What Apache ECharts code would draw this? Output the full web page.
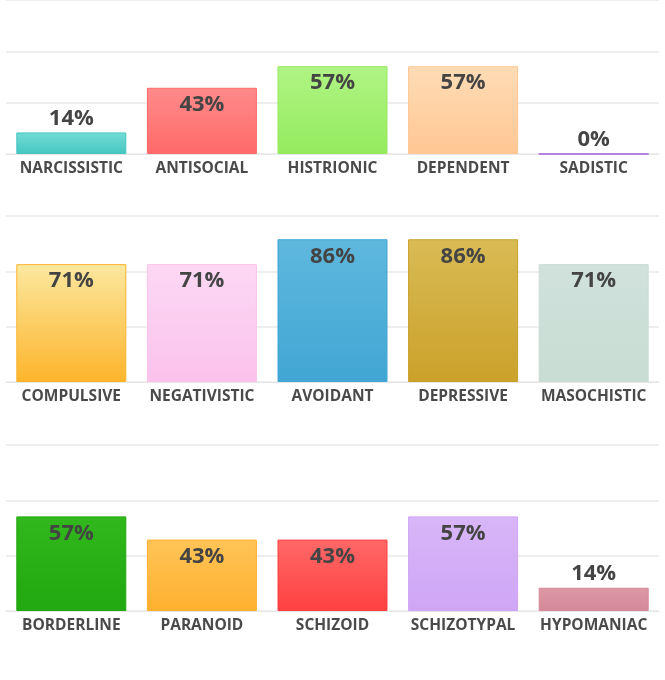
<!DOCTYPE html>
<html><head><meta charset="utf-8">
<script src="https://cdn.jsdelivr.net/npm/echarts@6/dist/echarts.min.js"></script>
<style>html,body{margin:0;padding:0;background:#fff}#c{width:665px;height:680px}</style>
</head><body><div id="c"></div>
<script>
const row1Categories = ['NARCISSISTIC','ANTISOCIAL','HISTRIONIC','DEPENDENT','SADISTIC'];
const row1Values = [14,43,57,57,0];
const row2Categories = ['COMPULSIVE','NEGATIVISTIC','AVOIDANT','DEPRESSIVE','MASOCHISTIC'];
const row2Values = [71,71,86,86,71];
const row3Categories = ['BORDERLINE','PARANOID','SCHIZOID','SCHIZOTYPAL','HYPOMANIAC'];
const row3Values = [57,43,43,57,14];

const row1Colors = [['#74dcd6','#45c6c0'],['#ff8a8a','#ff6a6a'],['#b0f484','#94eb5e'],['#ffdcb6','#ffc793'],['#b070e0','#a060d8']];
const row2Colors = [['#fbe89f','#fdb42c'],['#fcd8f4','#fbc2ec'],['#5fb8de','#41a6d3'],['#d9bb55','#cba12a'],['#d0e2db','#c8dcd4']];
const row3Colors = [['#30b81c','#22a810'],['#ffc457','#ffb02e'],['#ff6868','#ff4040'],['#d8b6f8','#cfa6f5'],['#dc98a6','#d48898']];

const rows = [[row1Categories,row1Values,row1Colors,-12],[row2Categories,row2Values,row2Colors,216],[row3Categories,row3Values,row3Colors,445]];
const grid=[],xAxis=[],yAxis=[],series=[];
rows.forEach((r,i)=>{
  const [cats,vals,cols,top]=r;
  grid.push({left:6,width:653,top:top,height:166});
  xAxis.push({type:'category',gridIndex:i,data:cats,axisTick:{show:false},
    axisLine:{lineStyle:{color:'#e6e6e6'}},
    axisLabel:{interval:0,margin:7,color:'#4a4a4a',fontFamily:'Open Sans',fontWeight:'bold',fontSize:15.5}});
  yAxis.push({type:'value',gridIndex:i,min:0,max:100,interval:100/3,axisLabel:{show:false},
    splitLine:{lineStyle:{color:'#e8e8e8',width:1.5}}});
  series.push({type:'bar',xAxisIndex:i,yAxisIndex:i,barWidth:110,
    data:vals.map((v,j)=>({value:v,
      itemStyle:{color:new echarts.graphic.LinearGradient(0,0,0,1,[{offset:0,color:cols[j][0]},{offset:1,color:cols[j][1]}]),
        borderColor:cols[j][1],borderWidth:v===0?1.5:1},
      label:v<20?{position:'top',distance:3}:{position:'insideTop',distance:6}})),
    label:{show:true,formatter:'{c}%',color:'#444',fontFamily:'Open Sans',fontWeight:'bold',fontSize:22}});
});
const chart=echarts.init(document.getElementById('c'));
chart.setOption({animation:false,grid,xAxis,yAxis,series});
</script></body></html>
